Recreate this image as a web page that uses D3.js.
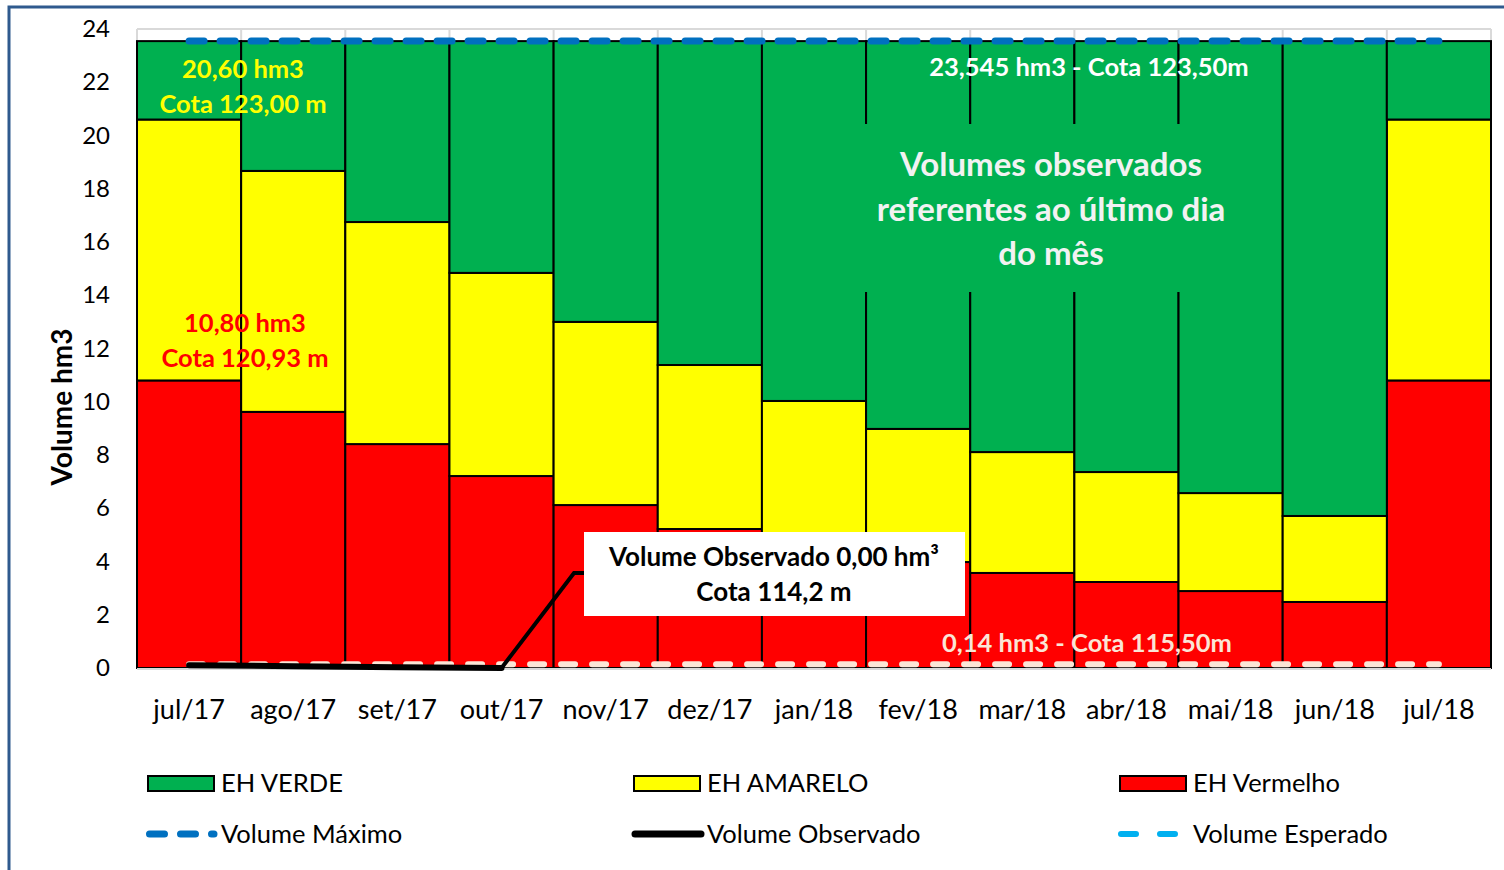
<!DOCTYPE html>
<html lang="pt">

<head>
  <meta charset="UTF-8">
  <title>Volumes observados</title>
  <script src="https://d3js.org/d3.v7.min.js"></script>
  <style>
    body {
      margin: 0;
      background: #fff;
    }

    svg text {
      font-family: Lato, "Open Sans", sans-serif;
    }
  </style>
</head>

<body>
  <script>
    var width = 1504;
    var height = 870;

    // dados
    var meses = ['jul/17', 'ago/17', 'set/17', 'out/17', 'nov/17', 'dez/17', 'jan/18',
      'fev/18', 'mar/18', 'abr/18', 'mai/18', 'jun/18', 'jul/18'];
    // limite superior de cada faixa (hm3)
    var limVermelho = [10.80, 9.62, 8.41, 7.21, 6.12, 5.22, 4.55, 3.98, 3.57, 3.23, 2.89, 2.48, 10.80];
    var limAmarelo = [20.60, 18.67, 16.75, 14.84, 13.00, 11.38, 10.03, 8.98, 8.11, 7.36, 6.57, 5.71, 20.60];
    var limVerde = [23.545, 23.545, 23.545, 23.545, 23.545, 23.545, 23.545, 23.545, 23.545, 23.545, 23.545, 23.545, 23.545];
    var volMaximo = [23.545, 23.545, 23.545, 23.545, 23.545, 23.545, 23.545, 23.545, 23.545, 23.545, 23.545, 23.545, 23.545];
    var volEsperado = [0.14, 0.14, 0.14, 0.14, 0.14, 0.14, 0.14, 0.14, 0.14, 0.14, 0.14, 0.14, 0.14];
    var volObservado = [0.10, 0.07, 0.03, 0.00];
    var yTicks = [0, 2, 4, 6, 8, 10, 12, 14, 16, 18, 20, 22, 24];

    var cores = {
      verde: '#00B050',
      amarelo: '#FFFF00',
      vermelho: '#FF0000',
      maximo: '#0070C0',
      esperado: '#FBE5D6',
      esperadoLeg: '#00B0F0'
    };

    var svg = d3.select('body')
      .append('svg')
      .attr('width', width)
      .attr('height', height);

    // moldura
    svg.append('path')
      .attr('d', 'M9,870 L9,7 L1504,7')
      .attr('fill', 'none')
      .attr('stroke', '#2F5A8E')
      .attr('stroke-width', 3);

    var xScale = d3.scaleBand()
      .domain(meses)
      .range([137, 1491])
      .padding(0);
    var yScale = d3.scaleLinear()
      .domain([0, 24])
      .range([668, 29]);

    // grade
    svg.append('line')
      .attr('x1', 137).attr('x2', 1491)
      .attr('y1', yScale(24)).attr('y2', yScale(24))
      .attr('stroke', '#D9D9D9').attr('stroke-width', 2);
    svg.selectAll('.vgrid')
      .data(meses.concat(['fim']))
      .enter()
      .append('line')
      .attr('class', 'vgrid')
      .attr('x1', function (d, i) { return 137 + i * xScale.bandwidth(); })
      .attr('x2', function (d, i) { return 137 + i * xScale.bandwidth(); })
      .attr('y1', yScale(24))
      .attr('y2', yScale(0))
      .attr('stroke', '#D9D9D9').attr('stroke-width', 2);

    // barras empilhadas
    var faixas = [
      { nome: 'vermelho', base: null, topo: limVermelho },
      { nome: 'amarelo', base: limVermelho, topo: limAmarelo },
      { nome: 'verde', base: limAmarelo, topo: limVerde }
    ];
    faixas.forEach(function (f) {
      svg.selectAll('.bar-' + f.nome)
        .data(meses)
        .enter()
        .append('rect')
        .attr('class', 'bar-' + f.nome)
        .attr('x', function (d) { return xScale(d); })
        .attr('width', xScale.bandwidth())
        .attr('y', function (d, i) { return yScale(f.topo[i]); })
        .attr('height', function (d, i) {
          var b = f.base ? f.base[i] : 0;
          return yScale(b) - yScale(f.topo[i]);
        })
        .attr('fill', cores[f.nome])
        .attr('stroke', '#000')
        .attr('stroke-width', 2);
    });

    // eixo x (linha cinza)
    svg.append('line')
      .attr('x1', 137).attr('x2', 1491)
      .attr('y1', yScale(0) + 1).attr('y2', yScale(0) + 1)
      .attr('stroke', '#D9D9D9').attr('stroke-width', 2);

    // eixo y
    var yAxis = d3.axisLeft(yScale).tickValues(yTicks).tickSize(0).tickPadding(0);
    var gy = svg.append('g')
      .attr('transform', 'translate(110,0)')
      .call(yAxis);
    gy.select('.domain').remove();
    gy.selectAll('text')
      .attr('font-size', 24)
      .attr('fill', '#000')
      .attr('font-family', 'Lato');

    // eixo x
    var xAxis = d3.axisBottom(xScale).tickSize(0).tickPadding(0);
    var gx = svg.append('g')
      .attr('transform', 'translate(0,700)')
      .call(xAxis);
    gx.select('.domain').remove();
    gx.selectAll('text')
      .attr('font-size', 27)
      .attr('fill', '#000')
      .attr('font-family', 'Lato');

    svg.append('text')
      .attr('transform', 'translate(72,407) rotate(-90)')
      .attr('text-anchor', 'middle')
      .attr('font-size', 28)
      .attr('font-weight', 'bold')
      .text('Volume hm3');

    // caixa de texto verde
    svg.append('rect')
      .attr('x', 782).attr('y', 124)
      .attr('width', 492).attr('height', 168)
      .attr('fill', cores.verde);
    svg.selectAll('.nota')
      .data(['Volumes observados', 'referentes ao último dia', 'do mês'])
      .enter()
      .append('text')
      .attr('class', 'nota')
      .attr('x', 1051)
      .attr('y', function (d, i) { return 176 + i * 44.5; })
      .attr('text-anchor', 'middle')
      .attr('font-size', 33)
      .attr('font-weight', 'bold')
      .attr('fill', '#F2F2F2')
      .text(function (d) { return d; });

    // linhas de referencia
    var linha = d3.line()
      .x(function (d, i) { return xScale(meses[i]) + xScale.bandwidth() / 2; })
      .y(function (d) { return yScale(d); });

    svg.append('path')
      .datum(volMaximo)
      .attr('d', linha)
      .attr('fill', 'none')
      .attr('stroke', cores.maximo)
      .attr('stroke-width', 7)
      .attr('stroke-linecap', 'round')
      .attr('stroke-dasharray', '15,16');

    svg.append('path')
      .datum(volEsperado)
      .attr('d', linha)
      .attr('fill', 'none')
      .attr('stroke', cores.esperado)
      .attr('stroke-width', 6)
      .attr('stroke-linecap', 'round')
      .attr('stroke-dasharray', '14,17');

    svg.append('path')
      .datum(volObservado)
      .attr('d', linha)
      .attr('fill', 'none')
      .attr('stroke', '#000')
      .attr('stroke-width', 6)
      .attr('stroke-linecap', 'round');

    // chamada do volume observado
    var ult = volObservado.length - 1;
    var px = xScale(meses[ult]) + xScale.bandwidth() / 2;
    var py = yScale(volObservado[ult]);
    svg.append('path')
      .attr('d', 'M' + px + ',' + py + ' L574,573 L584,573')
      .attr('fill', 'none')
      .attr('stroke', '#000')
      .attr('stroke-width', 4);
    svg.append('rect')
      .attr('x', 584).attr('y', 532)
      .attr('width', 381).attr('height', 84)
      .attr('fill', '#fff');
    svg.selectAll('.chamada')
      .data(['Volume Observado 0,00 hm³', 'Cota 114,2 m'])
      .enter()
      .append('text')
      .attr('class', 'chamada')
      .attr('x', 774)
      .attr('y', function (d, i) { return 566 + i * 35; })
      .attr('text-anchor', 'middle')
      .attr('font-size', 26)
      .attr('font-weight', 'bold')
      .attr('fill', '#000')
      .text(function (d) { return d; });

    // rotulos
    var rotulos = [
      { t: '20,60 hm3', x: 243, y: 78, c: cores.amarelo },
      { t: 'Cota 123,00 m', x: 243, y: 113, c: cores.amarelo },
      { t: '10,80 hm3', x: 245, y: 332, c: cores.vermelho },
      { t: 'Cota 120,93 m', x: 245, y: 367, c: cores.vermelho },
      { t: '23,545 hm3 - Cota 123,50m', x: 1089, y: 76, c: '#fff' },
      { t: '0,14 hm3 - Cota 115,50m', x: 1087, y: 652, c: cores.esperado }
    ];
    svg.selectAll('.rotulo')
      .data(rotulos)
      .enter()
      .append('text')
      .attr('class', 'rotulo')
      .attr('x', function (d) { return d.x; })
      .attr('y', function (d) { return d.y; })
      .attr('text-anchor', 'middle')
      .attr('font-size', 25.5)
      .attr('font-weight', 'bold')
      .attr('fill', function (d) { return d.c; })
      .text(function (d) { return d.t; });

    // legenda
    var legenda = [
      { nome: 'EH VERDE', tipo: 'rect', cor: cores.verde, x: 148, y: 783 },
      { nome: 'EH AMARELO', tipo: 'rect', cor: cores.amarelo, x: 634, y: 783 },
      { nome: 'EH Vermelho', tipo: 'rect', cor: cores.vermelho, x: 1120, y: 783 },
      { nome: 'Volume Máximo', tipo: 'max', cor: cores.maximo, x: 148, y: 834 },
      { nome: 'Volume Observado', tipo: 'obs', cor: '#000', x: 634, y: 834 },
      { nome: 'Volume Esperado', tipo: 'esp', cor: cores.esperadoLeg, x: 1120, y: 834 }
    ];
    var leg = svg.selectAll('.leg')
      .data(legenda)
      .enter()
      .append('g')
      .attr('class', 'leg')
      .attr('transform', function (d) { return 'translate(' + d.x + ',' + d.y + ')'; });

    leg.filter(function (d) { return d.tipo === 'rect'; })
      .append('rect')
      .attr('x', 0).attr('y', -7)
      .attr('width', 66).attr('height', 15)
      .attr('fill', function (d) { return d.cor; })
      .attr('stroke', '#000')
      .attr('stroke-width', 2);

    leg.filter(function (d) { return d.tipo === 'max'; })
      .append('line')
      .attr('x1', 1.5).attr('x2', 66)
      .attr('stroke', cores.maximo)
      .attr('stroke-width', 7)
      .attr('stroke-linecap', 'round')
      .attr('stroke-dasharray', '15,16');

    leg.filter(function (d) { return d.tipo === 'obs'; })
      .append('line')
      .attr('x1', 1).attr('x2', 67)
      .attr('stroke', '#000')
      .attr('stroke-width', 7)
      .attr('stroke-linecap', 'round');

    leg.filter(function (d) { return d.tipo === 'esp'; })
      .append('line')
      .attr('x1', 1).attr('x2', 62)
      .attr('stroke', cores.esperadoLeg)
      .attr('stroke-width', 6)
      .attr('stroke-linecap', 'round')
      .attr('stroke-dasharray', '15,24');

    leg.append('text')
      .attr('x', 73)
      .attr('y', 9)
      .attr('font-size', 25.5)
      .attr('fill', '#000')
      .text(function (d) { return d.nome; });
  </script>
</body>

</html>
